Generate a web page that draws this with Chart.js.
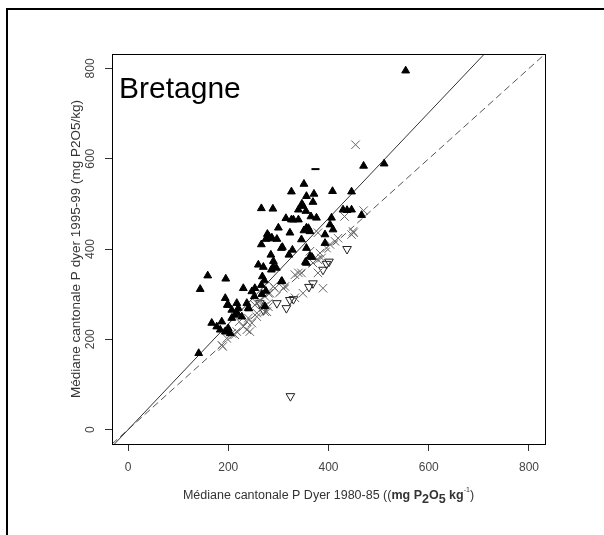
<!DOCTYPE html>
<html>
<head>
<meta charset="utf-8">
<script src="https://cdn.jsdelivr.net/npm/chart.js@4.4.1/dist/chart.umd.min.js"></script>
<style>
    html, body { margin: 0; padding: 0; background: #fff; }
</style>
</head>
<body>
<canvas id="dyerChart" width="604" height="535"></canvas>
<script>
// P Dyer medians per canton, 1980-85 (x) vs 1995-99 (y)
const triX = [554, 511, 470, 351, 326, 408, 446, 356, 371, 369, 347, 349, 266, 289, 340, 355, 429, 437, 446, 466,
    365, 376, 330, 340, 326, 300, 360, 351, 406, 403, 409, 323, 356, 363, 393, 281, 286, 297, 275, 346,
    266, 393, 306, 328, 356, 285, 321, 363, 308, 290, 290, 296, 286, 354, 356, 367, 260, 270, 159, 195,
    144, 268, 272, 266, 307, 230, 247, 253, 306, 275, 194, 217, 200, 207, 220, 240, 237, 198, 213, 207,
    227, 241, 167, 187, 177, 184, 194, 200, 204, 196, 141, 218, 267, 252, 273, 315, 278, 287];
const triY = [795, 589, 584, 544, 527, 528, 527, 517, 522, 504, 500, 495, 490, 489, 487, 484, 487, 486, 487, 475,
    472, 469, 465, 465, 465, 447, 446, 441, 469, 454, 443, 436, 447, 439, 432, 428, 423, 422, 422, 421,
    410, 413, 402, 398, 402, 387, 387, 384, 404, 373, 361, 358, 354, 371, 369, 382, 365, 360, 341, 334,
    311, 339, 330, 320, 329, 313, 306, 313, 328, 307, 291, 280, 276, 265, 269, 269, 280, 276, 254, 247,
    250, 268, 236, 239, 228, 221, 217, 224, 213, 217, 169, 258, 300, 295, 273, 468, 433, 425];

const crossX = [454, 470, 432, 449, 446, 450, 419, 413, 403, 396, 379, 383, 386, 363, 369, 379, 346, 379, 389, 349,
    333, 333, 340, 310, 313, 293, 290, 283, 280, 273, 263, 263, 253, 257, 280, 270, 277, 273, 257, 257,
    240, 237, 222, 247, 230, 237, 243, 217, 213, 207, 197, 187, 189];
const crossY = [631, 485, 472, 439, 432, 436, 424, 417, 410, 402, 436, 391, 380, 395, 369, 376, 347, 347, 313, 302,
    292, 343, 347, 313, 317, 313, 317, 302, 302, 295, 284, 287, 276, 280, 272, 272, 261, 261, 258, 250,
    247, 239, 239, 236, 228, 221, 217, 217, 210, 213, 202, 187, 184];

const openX = [324, 437, 396, 401, 389, 369, 361, 323, 330, 316, 297, 270, 263];
const openY = [74, 400, 367, 372, 354, 324, 316, 287, 289, 269, 280, 265, 280];

const dashX = [374];
const dashY = [577];

// fitted line and 1:1 line, end points
const fitLineX = [-27, 711];
const fitLineY = [-32, 832];
const oneToOneX = [-32, 832];
const oneToOneY = [-32, 832];

const tickValues = [0, 200, 400, 600, 800];
const axisMin = -32;
const axisMax = 832;

const toPoints = (xs, ys) => xs.map((x, i) => ({ x: x, y: ys[i] }));

const textFont = '"Liberation Sans", Arial, sans-serif';

const framePlugin = {
    id: 'frame',
    beforeDraw(chart) {
        const ctx = chart.ctx;
        ctx.save();
        ctx.fillStyle = '#fff';
        ctx.fillRect(0, 0, chart.width, chart.height);
        ctx.fillStyle = '#000';
        ctx.fillRect(6, 8, chart.width - 6, 2);
        ctx.fillRect(6, 8, 2, chart.height - 8);
        ctx.restore();
    },
    afterDraw(chart) {
        const ctx = chart.ctx;
        const area = chart.chartArea;
        ctx.save();
        ctx.strokeStyle = '#000';
        ctx.lineWidth = 1;
        ctx.strokeRect(area.left + 0.5, area.top + 0.5, area.right - area.left, area.bottom - area.top);

        ctx.fillStyle = '#000';
        ctx.font = '30px ' + textFont;
        ctx.textBaseline = 'alphabetic';
        ctx.fillText('Bretagne', area.left + 7, area.top + 44);

        // x axis title with bold sub/superscripts
        const parts = [
            { t: 'Médiane cantonale P Dyer 1980-85 ((', f: '12.5px ' + textFont, dy: 0 },
            { t: 'mg P', f: 'bold 12.5px ' + textFont, dy: 0 },
            { t: '2', f: 'bold 12.5px ' + textFont, dy: 4 },
            { t: 'O', f: 'bold 12.5px ' + textFont, dy: 0 },
            { t: '5', f: 'bold 12.5px ' + textFont, dy: 4 },
            { t: ' kg', f: 'bold 12.5px ' + textFont, dy: 0 },
            { t: '-1', f: '7px ' + textFont, dy: -7 },
            { t: ')', f: '12.5px ' + textFont, dy: 0 },
        ];
        let total = 0;
        parts.forEach((p) => {
            ctx.font = p.f;
            p.w = ctx.measureText(p.t).width;
            total += p.w;
        });
        let x = (area.left + area.right) / 2 - total / 2;
        const baseY = area.bottom + 55;
        ctx.fillStyle = '#333';
        parts.forEach((p) => {
            ctx.font = p.f;
            ctx.fillText(p.t, x, baseY + p.dy);
            x += p.w;
        });
        ctx.restore();
    },
};

const setTicks = (scale) => {
    scale.ticks = tickValues.map((v) => ({ value: v }));
};

new Chart(document.getElementById('dyerChart'), {
    type: 'scatter',
    data: {
        datasets: [
            {
                label: 'hausse',
                data: toPoints(triX, triY),
                pointStyle: 'triangle',
                pointRadius: 4.5,
                backgroundColor: '#000',
                borderColor: '#000',
                borderWidth: 1,
                order: 1,
            },
            {
                label: 'autre',
                data: toPoints(dashX, dashY),
                pointStyle: 'line',
                pointRadius: 4,
                borderColor: '#000',
                borderWidth: 2,
                order: 1,
            },
            {
                label: 'stable',
                data: toPoints(crossX, crossY),
                pointStyle: 'crossRot',
                pointRadius: 6,
                borderColor: '#666',
                borderWidth: 1,
                order: 2,
            },
            {
                label: 'baisse',
                data: toPoints(openX, openY),
                pointStyle: 'triangle',
                rotation: 180,
                pointRadius: 5,
                backgroundColor: 'rgba(255,255,255,0)',
                borderColor: '#222',
                borderWidth: 1,
                order: 2,
            },
            {
                label: 'regression',
                data: toPoints(fitLineX, fitLineY),
                showLine: true,
                pointRadius: 0,
                borderColor: '#333',
                borderWidth: 1,
                order: 3,
            },
            {
                label: '1:1',
                data: toPoints(oneToOneX, oneToOneY),
                showLine: true,
                pointRadius: 0,
                borderColor: '#555',
                borderWidth: 1,
                borderDash: [7, 4],
                order: 3,
            },
        ],
    },
    options: {
        responsive: false,
        devicePixelRatio: 1,
        animation: false,
        layout: {
            padding: { left: 0, top: 54, right: 59, bottom: 0 },
        },
        plugins: {
            legend: { display: false },
            tooltip: { enabled: false },
        },
        scales: {
            x: {
                type: 'linear',
                min: axisMin,
                max: axisMax,
                afterBuildTicks: setTicks,
                afterFit: (scale) => { scale.height = 91; },
                border: { display: false },
                grid: {
                    drawOnChartArea: false,
                    drawTicks: true,
                    tickLength: 7,
                    color: '#333',
                },
                ticks: {
                    color: '#444',
                    padding: 9,
                    maxRotation: 0,
                    font: { family: textFont, size: 12 },
                },
            },
            y: {
                type: 'linear',
                min: axisMin,
                max: axisMax,
                afterBuildTicks: setTicks,
                afterFit: (scale) => { scale.width = 112; },
                border: { display: false },
                grid: {
                    drawOnChartArea: false,
                    drawTicks: true,
                    tickLength: 7,
                    color: '#333',
                },
                ticks: {
                    color: '#444',
                    padding: 4,
                    minRotation: 90,
                    maxRotation: 90,
                    crossAlign: 'center',
                    font: { family: textFont, size: 12 },
                },
                title: {
                    display: true,
                    text: 'Médiane cantonale P dyer 1995-99 (mg P2O5/kg)',
                    color: '#333',
                    font: { family: textFont, size: 13.5 },
                    padding: { top: 68, bottom: 0 },
                },
            },
        },
    },
    plugins: [framePlugin],
});
</script>
</body>
</html>
